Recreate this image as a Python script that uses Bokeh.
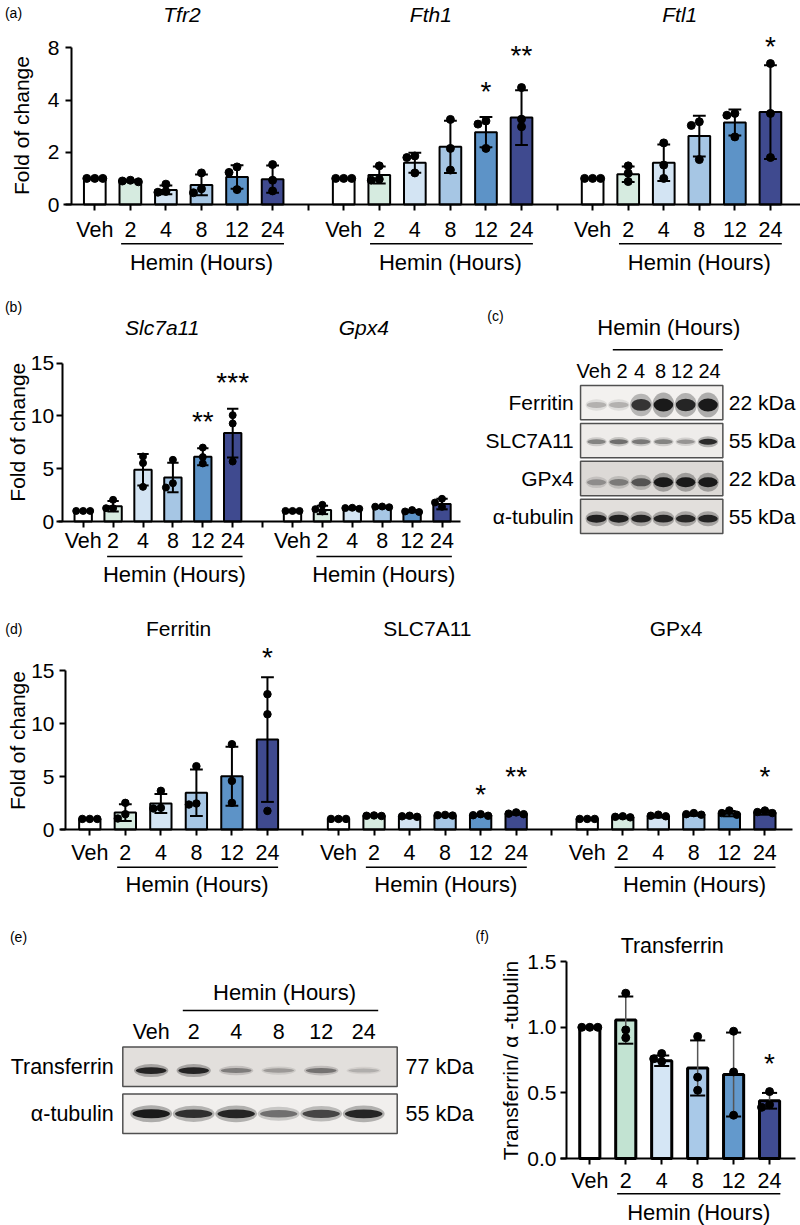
import math
from bokeh.plotting import figure
from bokeh.models import Range1d, FixedTicker, Label
from bokeh.layouts import column, row
from bokeh.embed import file_html
from bokeh.resources import INLINE
from bokeh.core.properties import value

FONT = "Liberation Sans"

# ---------------- data ----------------
lanes = ["Veh", "2", "4", "8", "12", "24"]
bar_colors = ["#ffffff", "#d6ebe0", "#d3e4f3", "#a6c6e4", "#5d93c7", "#3f4a8f"]
bar_colors_f = ["#ffffff", "#c2e3d2", "#d5e6f5", "#a9c9e8", "#6399cc", "#404c92"]

# (a) qPCR
a_titles = ["Tfr2", "Fth1", "Ftl1"]
tfr2_mean = [1.0, 0.90, 0.56, 0.75, 1.05, 0.97]
tfr2_sd = [0.0, 0.03, 0.17, 0.40, 0.45, 0.52]
tfr2_pts = [[1, 1, 1], [0.87, 0.90, 0.93], [0.78, 0.47, 0.50], [1.21, 0.45, 0.60], [1.44, 1.23, 0.57], [1.53, 0.93, 0.52]]
fth1_mean = [1.0, 1.13, 1.60, 2.21, 2.77, 3.33]
fth1_sd = [0.0, 0.33, 0.38, 1.00, 0.58, 1.05]
fth1_pts = [[1, 1, 1], [1.48, 0.93, 0.97], [1.86, 1.80, 1.21], [3.26, 2.15, 1.32], [3.20, 3.08, 2.15], [4.48, 3.27, 2.98]]
ftl1_mean = [1.0, 1.16, 1.60, 2.62, 3.14, 3.54]
ftl1_sd = [0.0, 0.30, 0.70, 0.78, 0.50, 1.80]
ftl1_pts = [[1, 1, 1], [1.48, 1.20, 0.88], [2.36, 1.51, 1.00], [3.03, 3.17, 1.72], [3.42, 3.49, 2.59], [5.40, 3.49, 1.80]]
a_star_idx = [11, 12, 19]
a_star_y = [4.49, 5.87, 6.22]
a_star_txt = ["*", "**", "*"]
a_yticks = [0, 2, 4, 6]
a_ytick_labels = ["0", "2", "4", "8"]

# (b) qPCR
b_titles = ["Slc7a11", "Gpx4"]
slc_mean = [1.0, 1.45, 4.90, 4.17, 6.13, 8.37]
slc_sd = [0.0, 0.50, 1.50, 1.40, 0.80, 2.30]
slc_pts = [[1, 1, 1], [2.05, 1.26, 1.26], [6.16, 5.53, 3.28], [5.84, 3.22, 3.63], [7.00, 6.10, 5.50], [10.07, 9.28, 5.68]]
gpx_mean = [1.0, 1.10, 1.25, 1.35, 0.97, 1.65]
gpx_sd = [0.0, 0.40, 0.08, 0.08, 0.10, 0.50]
gpx_pts = [[1, 1, 1], [1.58, 1.17, 0.95], [1.20, 1.30, 1.27], [1.42, 1.35, 1.40], [0.95, 1.08, 0.90], [2.15, 1.80, 1.39]]
b_star_idx = [4, 5]
b_star_y = [9.82, 13.51]
b_star_txt = ["**", "***"]
b_yticks = [0, 5, 10, 15]

# (c) western blot band intensities (0 = none, 1 = saturated)
c_rows = ["Ferritin", "SLC7A11", "GPx4", "\u03b1-tubulin"]
c_kda = ["22 kDa", "55 kDa", "22 kDa", "55 kDa"]
c_ferritin = [0.30, 0.30, 0.88, 1.00, 0.95, 1.00]
c_slc = [0.50, 0.60, 0.55, 0.50, 0.42, 0.92]
c_gpx = [0.40, 0.50, 0.70, 1.00, 1.00, 1.00]
c_tub = [0.97, 0.97, 0.95, 0.95, 0.93, 0.95]

# (d) densitometry
d_titles = ["Ferritin", "SLC7A11", "GPx4"]
fer_mean = [1.0, 1.60, 2.46, 3.47, 5.04, 8.51]
fer_sd = [0.0, 0.80, 0.90, 2.20, 2.80, 5.90]
fer_pts = [[1, 1, 1], [2.52, 1.04, 1.45], [3.66, 1.99, 2.05], [5.99, 2.36, 2.46], [8.07, 4.60, 2.52], [12.80, 10.90, 1.76]]
slcd_mean = [1.0, 1.30, 1.20, 1.30, 1.35, 1.50]
slcd_sd = [0.0, 0.05, 0.08, 0.05, 0.08, 0.10]
slcd_pts = [[1, 1, 1], [1.30, 1.33, 1.28], [1.25, 1.30, 1.20], [1.32, 1.38, 1.35], [1.30, 1.45, 1.35], [1.45, 1.62, 1.50]]
gpxd_mean = [1.0, 1.15, 1.25, 1.42, 1.50, 1.60]
gpxd_sd = [0.0, 0.08, 0.12, 0.12, 0.25, 0.20]
gpxd_pts = [[1, 1, 1], [1.20, 1.25, 1.15], [1.40, 1.30, 1.25], [1.55, 1.45, 1.40], [1.80, 1.55, 1.40], [1.80, 1.55, 1.65]]
d_star_idx = [5, 11, 12, 19]
d_star_y = [16.62, 3.69, 5.42, 5.42]
d_star_txt = ["*", "*", "**", "*"]

# (e) western blot
e_rows = ["Transferrin", "\u03b1-tubulin"]
e_kda = ["77 kDa", "55 kDa"]
e_tf = [0.95, 0.95, 0.50, 0.35, 0.55, 0.25]
e_tub = [1.00, 0.90, 0.95, 0.60, 0.80, 0.95]

# (f) Transferrin / tubulin
tf_mean = [1.0, 1.055, 0.745, 0.69, 0.64, 0.44]
tf_sd = [0.0, 0.18, 0.04, 0.21, 0.32, 0.06]
tf_pts = [[1, 1, 1], [1.26, 0.98, 0.92], [0.80, 0.74, 0.76], [0.93, 0.62, 0.52], [0.97, 0.66, 0.33], [0.51, 0.39, 0.41]]
f_star_idx = [5]
f_star_y = [0.752]
f_star_txt = ["*"]
f_yticks = [0, 0.5, 1.0, 1.5]
f_ytick_labels = ["0.0", "0.5", "1.0", "1.5"]

HEMIN = "Hemin (Hours)"


# ---------------- helpers ----------------
def new_fig(W, H, xr, yr, axes=True):
    kw = {}
    if not axes:
        kw = dict(x_axis_location=None, y_axis_location=None)
    p = figure(width=W, height=H, x_range=Range1d(*xr), y_range=Range1d(*yr),
               output_backend="svg", toolbar_location=None,
               min_border_left=0, min_border_right=0, min_border_top=0, min_border_bottom=0, **kw)
    p.outline_line_color = None
    p.xgrid.visible = False
    p.ygrid.visible = False
    p.background_fill_color = "white"
    p.border_fill_color = "white"
    return p


def style_axis(ax, standoff, size):
    ax.axis_line_width = 2
    ax.axis_line_color = "black"
    ax.major_tick_line_width = 2
    ax.major_tick_line_color = "black"
    ax.major_tick_out = 6
    ax.major_tick_in = 0
    ax.minor_tick_line_color = None
    ax.major_label_text_font = FONT
    ax.major_label_text_font_size = size
    ax.major_label_text_color = "black"
    ax.major_label_standoff = standoff


def setup_axes(p, ngroups, yticks, ylabels, xstand, ystand, yaxis_x, xbounds):
    n = ngroups * 7 - 1
    ticks = list(range(n))
    over = {}
    for t in ticks:
        over[t] = "" if t % 7 == 6 else lanes[t % 7]
    xa = p.xaxis[0]
    ya = p.yaxis[0]
    xa.ticker = FixedTicker(ticks=ticks)
    xa.major_label_overrides = over
    xa.fixed_location = 0
    xa.bounds = xbounds
    ya.ticker = FixedTicker(ticks=yticks)
    ya.major_label_overrides = {t: l for t, l in zip(yticks, ylabels)}
    ya.bounds = (0, yticks[-1])
    ya.fixed_location = yaxis_x
    style_axis(xa, xstand, "21.5px")
    style_axis(ya, ystand, "21px")


def swarm_offsets(vals, sy_px, sx_px, d):
    placed = []
    offs = [0.0] * len(vals)
    order = sorted(range(len(vals)), key=lambda i: -vals[i])
    for i in order:
        ypx = vals[i] * sy_px
        chosen = 0.0
        for c in (0.0, -d, d, -2 * d, 2 * d):
            if all((c - px) ** 2 + (ypx - py) ** 2 >= (0.9 * d) ** 2 for px, py in placed):
                chosen = c
                break
        placed.append((chosen, ypx))
        offs[i] = chosen / sx_px
    return offs


def add_group(p, g, mean, sd, pts, cols, sx, sy, bw, cap, psize, lw=2, ecol="black", elw=2):
    xs = [g + i for i in range(len(mean))]
    p.vbar(x=xs, top=mean, width=bw, bottom=0, fill_color=cols, line_color="black", line_width=lw)
    has = [i for i in range(len(mean)) if sd[i] > 0]
    ex_ = [xs[i] for i in has]
    hi = [mean[i] + sd[i] for i in has]
    lo = [max(mean[i] - sd[i], 0) for i in has]
    p.segment(x0=ex_, y0=lo, x1=ex_, y1=hi, line_color=ecol, line_width=elw)
    p.segment(x0=[x - cap for x in ex_], y0=hi, x1=[x + cap for x in ex_], y1=hi, line_color="black", line_width=2)
    p.segment(x0=[x - cap for x in ex_], y0=lo, x1=[x + cap for x in ex_], y1=lo, line_color="black", line_width=2)
    px, py = [], []
    for i, vals in enumerate(pts):
        offs = swarm_offsets(vals, sy, sx, psize)
        px += [xs[i] + o for o in offs]
        py += list(vals)
    p.scatter(px, py, size=psize, color="black")


def add_stars(p, idx, ys, txt):
    p.text(x=idx, y=ys, text=txt, text_font=value(FONT), text_font_size="28px",
           text_align="center", text_baseline="alphabetic", y_offset=4, text_color="black")


def label(p, x, y, text, size="21px", style="normal", angle=0.0, align="center"):
    p.add_layout(Label(x=x, y=y, text=text, text_font=FONT, text_font_size=size,
                       text_font_style=style, text_align=align, text_baseline="middle",
                       angle=angle, text_color="black"))


def hemin(p, g, y_line, y_text, xs0, xs1, xt):
    p.segment(x0=[g + xs0], y0=[y_line], x1=[g + xs1], y1=[y_line], line_color="black", line_width=1.5)
    label(p, g + xt, y_text, HEMIN, size="22px")


def hex2rgb(h):
    return tuple(int(h[i:i + 2], 16) for i in (1, 3, 5))


def band_color(I, bg):
    b = hex2rgb(bg)
    v = [int(round(c - I * (c - 18))) for c in b]
    return "#%02x%02x%02x" % tuple(v)


def blot(p, intens, bgs, hmin, hmax, bw, box_cx, box_w, box_h, band_dy, row_px):
    for r, (I_list, bg) in enumerate(zip(intens, bgs)):
        p.rect(x=[box_cx], y=[-r], width=[box_w], height=[box_h], fill_color=bg,
               line_color="#505050", line_width=1.5)
        xs = list(range(len(I_list)))
        ys = [-r + band_dy[r]] * len(I_list)
        hs = [(hmin[r] + (hmax[r] - hmin[r]) * I) / row_px for I in I_list]
        cols = [band_color(I, bg) for I in I_list]
        p.ellipse(x=xs, y=ys, width=bw[r] * 1.12, height=[h * 1.9 for h in hs], fill_color=cols,
                  fill_alpha=0.3, line_color=None)
        p.ellipse(x=xs, y=ys, width=bw[r], height=hs, fill_color=cols, fill_alpha=0.95, line_color=None)


# ---------------- panel (a) ----------------  canvas: x 0..800, y 0..298
ax_ = lambda rx: (rx - 94.3) / 35.56
ay_ = lambda ry: (204.0 - ry) / 26.1
pa = new_fig(800, 298, (ax_(0), ax_(800)), (ay_(298), ay_(0)))
setup_axes(pa, 3, a_yticks, a_ytick_labels, 7, 6, ax_(71), (ax_(63), ax_(800)))
for g, (m, s, pts) in zip([0, 7, 14], [(tfr2_mean, tfr2_sd, tfr2_pts), (fth1_mean, fth1_sd, fth1_pts),
                                       (ftl1_mean, ftl1_sd, ftl1_pts)]):
    add_group(pa, g, m, s, pts, bar_colors, 35.56, 26.1, 0.61, 0.18, 8)
    hemin(pa, g, ay_(243.3), ay_(261.7), 0.74, 5.32, 3.0)
for g, t in zip([0, 7, 14], a_titles):
    label(pa, g + 2.45, ay_(14), t, style="italic")
add_stars(pa, a_star_idx, a_star_y, a_star_txt)
label(pa, ax_(21), ay_(125), "Fold of change", angle=math.pi / 2)
label(pa, ax_(13), ay_(12), "(a)", size="14px")

# ---------------- panel (b) ----------------  canvas: x 0..470, y 298..615
bx = lambda rx: (rx - 82.7) / 29.9
by = lambda ry: (521.0 - ry) / 10.56
pb = new_fig(470, 317, (bx(0), bx(470)), (by(615), by(298)))
setup_axes(pb, 2, b_yticks, [str(t) for t in b_yticks], 1, 2, bx(61.7), (bx(58), bx(460)))
for g, (m, s, pts) in zip([0, 7], [(slc_mean, slc_sd, slc_pts), (gpx_mean, gpx_sd, gpx_pts)]):
    add_group(pb, g, m, s, pts, bar_colors, 29.9, 10.56, 0.58, 0.19, 7)
    hemin(pb, g, by(556), by(574), 0.8, 5.33, 3.05)
for xr, t in zip([161.7, 363.3], b_titles):
    label(pb, bx(xr), by(326.7), t, style="italic")
add_stars(pb, b_star_idx, b_star_y, b_star_txt)
label(pb, bx(17), by(431.7), "Fold of change", angle=math.pi / 2)
label(pb, bx(13), by(306), "(b)", size="14px")

# ---------------- panel (c) blot ----------------  canvas: x 470..800, y 298..615
cx = lambda rx: (rx - 596.0) / 22.3
cy = lambda ry: (402.2 - ry) / 37.9
pc = new_fig(330, 317, (cx(470), cx(800)), (cy(615), cy(298)), axes=False)
blot(pc, [c_ferritin, c_slc, c_gpx, c_tub], ["#f3f1ef", "#eeecea", "#dcd9d6", "#e2dfdc"],
     [3, 3.5, 3.5, 6], [13, 6, 10, 8], [0.88, 0.82, 0.86, 0.88],
     cx(651.2), 142.3 / 22.3, 34.3 / 37.9, [-0.06, -0.03, -0.1, -0.06], 37.9)
pc.text(x=[cx(573.3)] * 4, y=[0, -1, -2, -3], text=c_rows, text_font=value(FONT), text_font_size="21px",
        text_align="right", text_baseline="middle", text_color="black")
pc.text(x=[cx(728.3)] * 4, y=[0, -1, -2, -3], text=c_kda, text_font=value(FONT), text_font_size="21px",
        text_align="left", text_baseline="middle", text_color="black")
c_lane_label_x = [-0.12, 1.15, 1.93, 2.87, 3.84, 5.07]
pc.text(x=c_lane_label_x, y=[cy(370.7)] * 6, text=lanes, text_font=value(FONT), text_font_size="20px",
        text_align="center", text_baseline="middle", text_color="black")
pc.segment(x0=[cx(612.3)], y0=[cy(349.3)], x1=[cx(722.3)], y1=[cy(349.3)], line_color="black", line_width=1.5)
label(pc, cx(668.3), cy(326.7), HEMIN, size="22px")
label(pc, cx(495), cy(315), "(c)", size="14px")

# ---------------- panel (d) ----------------  canvas: x 0..800, y 615..928
dx = lambda rx: (rx - 89.3) / 35.53
dy = lambda ry: (829.0 - ry) / 10.57
pd_ = new_fig(800, 313, (dx(0), dx(800)), (dy(928), dy(615)))
setup_axes(pd_, 3, b_yticks, [str(t) for t in b_yticks], 5, 5, dx(65), (dx(60), dx(792)))
for g, (m, s, pts) in zip([0, 7, 14], [(fer_mean, fer_sd, fer_pts), (slcd_mean, slcd_sd, slcd_pts),
                                       (gpxd_mean, gpxd_sd, gpxd_pts)]):
    add_group(pd_, g, m, s, pts, bar_colors, 35.53, 10.57, 0.6, 0.18, 7.5)
    hemin(pd_, g, dy(866.7), dy(884.3), 0.77, 5.3, 3.02)
for g, t in zip([0, 7, 14], d_titles):
    label(pd_, g + 2.5, dy(628.3), t)
add_stars(pd_, d_star_idx, d_star_y, d_star_txt)
label(pd_, dx(17), dy(740), "Fold of change", angle=math.pi / 2)
label(pd_, dx(13.3), dy(628.3), "(d)", size="14px")

# ---------------- panel (e) blot ----------------  canvas: x 0..475, y 928..1225
ex = lambda rx: (rx - 150.7) / 42.5
ey = lambda ry: (1066.3 - ry) / 47.0
pe = new_fig(475, 297, (ex(0), ex(475)), (ey(1225), ey(928)), axes=False)
blot(pe, [e_tf, e_tub], ["#e2dfdc", "#f1efed"], [3, 5], [7, 9], [0.72, 0.88],
     ex(259.5), 274.4 / 42.5, 39.5 / 47.0, [-0.08, 0.0], 47.0)
pe.text(x=[ex(113.3)] * 2, y=[0, -1], text=e_rows, text_font=value(FONT), text_font_size="21.5px",
        text_align="right", text_baseline="middle", text_color="black")
pe.text(x=[ex(405)] * 2, y=[0, -1], text=e_kda, text_font=value(FONT), text_font_size="21.5px",
        text_align="left", text_baseline="middle", text_color="black")
pe.text(x=list(range(6)), y=[ey(1031)] * 6, text=lanes, text_font=value(FONT), text_font_size="21.5px",
        text_align="center", text_baseline="middle", text_color="black")
pe.segment(x0=[ex(182.3)], y0=[ey(1010)], x1=[ex(377.7)], y1=[ey(1010)], line_color="black", line_width=1.5)
label(pe, ex(284), ey(991.7), HEMIN, size="22px")
label(pe, ex(18), ey(936.7), "(e)", size="14px")

# ---------------- panel (f) ----------------  canvas: x 475..800, y 928..1225
fx = lambda rx: (rx - 589.3) / 35.95
fy = lambda ry: (1158.0 - ry) / 131.2
pf = new_fig(325, 297, (fx(475), fx(800)), (fy(1225), fy(928)))
setup_axes(pf, 1, f_yticks, f_ytick_labels, 4, 4, fx(566), (fx(560), fx(795)))
add_group(pf, 0, tf_mean, tf_sd, tf_pts, bar_colors_f, 35.95, 131.2, 0.56, 0.21, 8, lw=3,
          ecol="#555555", elw=1.5)
hemin(pf, 0, fy(1193.3), fy(1211.7), 0.76, 5.3, 3.03)
label(pf, fx(671.7), fy(945), "Transferrin", size="21.5px")
add_stars(pf, f_star_idx, f_star_y, f_star_txt)
label(pf, fx(510), fy(1060), "Transferrin/ \u03b1 -tubulin", angle=math.pi / 2)
label(pf, fx(481.7), fy(935), "(f)", size="14px")

layout = column(pa, row(pb, pc), pd_, row(pe, pf))
open("out.html", "w").write(file_html(layout, INLINE))
